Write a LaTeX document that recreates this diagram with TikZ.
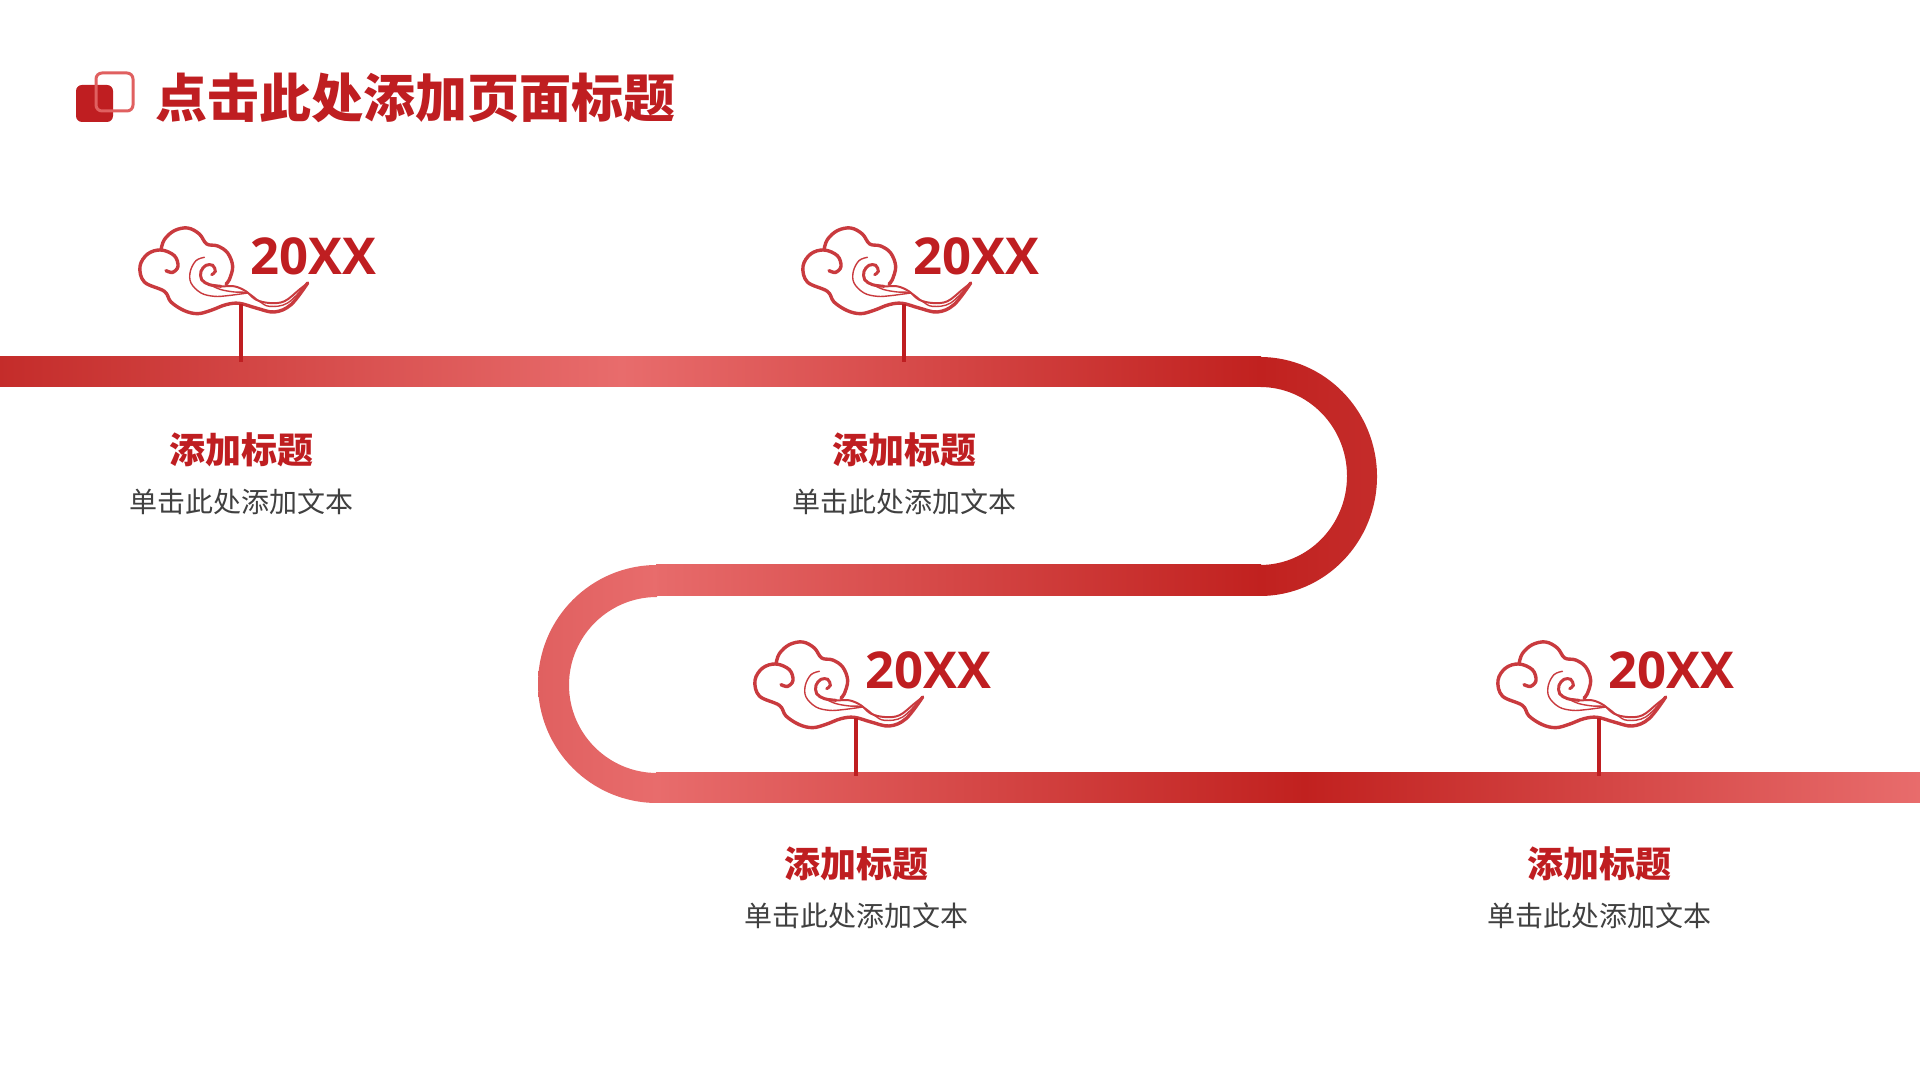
\documentclass[tikz,border=0pt]{standalone}
\usepackage{fontspec}
\setmainfont{Noto Sans CJK SC}
\newfontfamily\yearfont{Open Sans}
\definecolor{darkred}{HTML}{BF1E21}
\definecolor{bandred}{HTML}{C1211F}
\definecolor{bandpink}{HTML}{E86C6C}
\definecolor{edgepink}{HTML}{E06060}
\definecolor{cloudred}{HTML}{C93A3E}
\definecolor{bodygray}{HTML}{404040}
\tikzset{
  yeartext/.style={font=\yearfont\bfseries\fontsize{25.4}{30}\selectfont,text=darkred,anchor=west,inner sep=0pt},
  headtext/.style={font=\bfseries\fontsize{18}{22}\selectfont,text=darkred,inner sep=0pt},
  bodytext/.style={font=\fontsize{14}{18}\selectfont,text=bodygray,inner sep=0pt},
  stemline/.style={draw=darkred,line width=1.7pt},
  cloud/.pic={
    \begin{scope}[x=0.16667pt,y=-0.16667pt,shift={(-365,-278)},draw=cloudred,line cap=round]
      % outline with left curl
      \draw[line width=1.7pt] plot[smooth,tension=0.6] coordinates {(140,178) (160,183) (176,165) (165,133) (125,116) (85,128) (62,165) (75,212) (135,240) (155,272) (195,298) (235,307) (275,297) (320,280) (360,276) (410,290) (465,302) (515,280) (565,215)};
      % top of the cloud
      \draw[line width=1.7pt] plot[smooth,tension=0.6] coordinates {(125,116) (135,85) (165,58) (205,50) (240,68) (262,98) (295,104) (325,125) (340,165) (330,205) (320,218)};
      % spiral
      \draw[line width=1.5pt] plot[smooth,tension=0.6] coordinates {(277,190) (288,180) (280,162) (260,162) (245,180) (247,205) (270,220) (305,225)};
      % flourish running out to the tail
      \draw[line width=1pt] plot[smooth,tension=0.6] coordinates {(270,220) (305,225) (345,225) (380,240) (410,265) (450,275) (495,270) (540,235) (565,215)};
      \draw[line width=0.7pt] plot[smooth,tension=0.6] coordinates {(255,138) (230,148) (213,180) (215,215) (245,245) (285,255) (325,253) (385,245)};
      \draw[line width=0.7pt] plot[smooth,tension=0.6] coordinates {(275,222) (305,235) (345,242) (385,245) (420,270) (450,285) (505,275) (565,215)};
    \end{scope}
  }
}
\begin{document}
\begin{tikzpicture}[x=0.5pt,y=0.5pt]
  \useasboundingbox (0,0) rectangle (1920,1080);
  \fill[white] (0,0) rectangle (1920,1080);

  % title
  \fill[darkred,rounded corners=3pt] (76,995) rectangle (113,958);
  \draw[edgepink,line width=1.5pt,rounded corners=3pt] (96,1007) rectangle (133,969);
  \node (title) at (155,982) [anchor=west,inner sep=0pt,font=\bfseries\fontsize{26}{30}\selectfont,text=darkred] {点击此处添加页面标题};

  % band
  \shade[left color=bandred!95!white,right color=bandpink] (0,723) rectangle (622,693);
  \shade[left color=bandpink,right color=bandred] (621,723) rectangle (1261,693);
  \shade[left color=bandred,right color=bandred!95!white] (1260,723) arc[start angle=90,end angle=-90,x radius=117,y radius=119.5] -- (1260,515) arc[start angle=-90,end angle=90,x radius=87,y radius=89] -- cycle;
  \shade[left color=bandpink!90!edgepink,right color=bandred] (656,515) rectangle (1261,484);
  \shade[left color=edgepink,right color=bandpink] (657,515) arc[start angle=90,end angle=270,radius=119] -- (657,307) arc[start angle=270,end angle=90,radius=88] -- cycle;
  \shade[left color=bandpink,right color=bandred] (656,307) rectangle (1305,277);
  \shade[left color=bandred,right color=bandpink] (1304,307) rectangle (1920,277);

  % milestones
  \foreach \name/\xa/\ya in {a/241/776, b/904/776, c/856/362, d/1599/362}{
    \pic at (\xa,\ya) {cloud};
    \coordinate (\name top) at (\xa,\ya);
    \coordinate (\name bot) at ([yshift=-29pt]\name top);
    \draw[stemline] (\name top) -- (\name bot);
    \node (\name year) at ([xshift=4.6pt,yshift=24pt]\name top) [yeartext] {20XX};
    \node (\name head) at ([yshift=-73pt]\name top) [headtext] {添加标题};
    \node (\name body) at ([yshift=-98.7pt]\name top) [bodytext] {单击此处添加文本};
  }
\end{tikzpicture}
\end{document}
